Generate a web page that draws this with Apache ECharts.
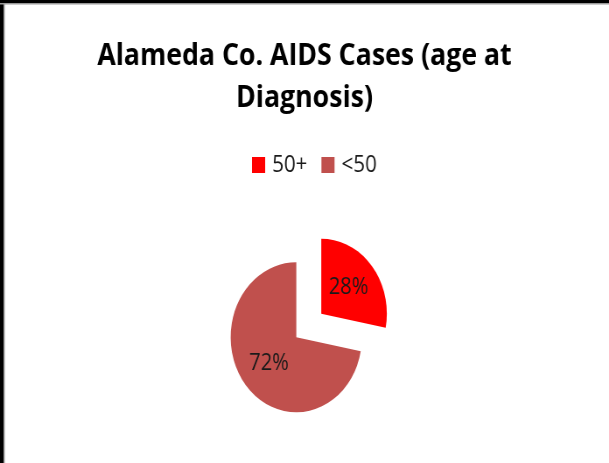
<!DOCTYPE html>
<html>
<head>
<meta charset="utf-8">
<script src="https://cdn.jsdelivr.net/npm/echarts@6/dist/echarts.min.js"></script>
<style>
  html, body { margin: 0; padding: 0; background: #fff; overflow: hidden; }
  #wrap { width: 609px; height: 463px; overflow: hidden; position: relative; }
  #chart { width: 696px; height: 463px; transform: scaleX(0.875); transform-origin: 0 0; }
</style>
</head>
<body>
<div id="wrap"><div id="chart"></div></div>
<script>
const titleText = 'Alameda Co. AIDS Cases (age at\nDiagnosis)';
const categories = ['50+', '<50'];
const values = [28, 72];
const colors = ['#FF0000', '#C0504D'];
const explodedIndex = 0;

const chart = echarts.init(document.getElementById('chart'), null, { renderer: 'canvas' });
const option = {
  animation: false,
  backgroundColor: '#ffffff',
  title: {
    text: titleText,
    left: 'center',
    top: 30,
    textStyle: {
      fontFamily: 'Open Sans',
      fontWeight: 'bold',
      fontSize: 30.5,
      lineHeight: 42,
      color: '#000000'
    }
  },
  legend: {
    data: categories,
    top: 148,
    left: 283,
    padding: 5,
    itemWidth: 15,
    itemHeight: 16,
    itemGap: 16,
    icon: 'rect',
    selectedMode: false,
    textStyle: { fontFamily: 'Open Sans', fontSize: 23.5, color: '#1a1a1a', padding: [0, 0, 0, 3] }
  },
  graphic: [
    { type: 'rect', shape: { x: 0, y: 0, width: 4, height: 463 }, style: { fill: '#000' } },
    { type: 'rect', shape: { x: 4, y: 0, width: 1.5, height: 463 }, style: { fill: '#999' } },
    { type: 'rect', shape: { x: 0, y: 0, width: 696, height: 3 }, style: { fill: '#000' } },
    { type: 'rect', shape: { x: 0, y: 3, width: 696, height: 1.5 }, style: { fill: '#999' } }
  ],
  series: [{
    type: 'pie',
    center: [338.6, 337.3],
    radius: 75,
    startAngle: 90,
    clockwise: true,
    selectedMode: 'multiple',
    selectedOffset: 37,
    avoidLabelOverlap: false,
    label: {
      show: true,
      position: 'inside',
      formatter: '{d}%',
      fontFamily: 'Open Sans',
      fontSize: 23,
      color: '#1a1a1a'
    },
    labelLine: { show: false },
    emphasis: { disabled: true },
    data: categories.map((c, i) => ({
      name: c,
      value: values[i],
      selected: i === explodedIndex,
      itemStyle: { color: colors[i] },
      label: i === explodedIndex ? { offset: [-2, 5] } : {}
    }))
  }]
};
chart.setOption(option);
</script>
</body>
</html>
